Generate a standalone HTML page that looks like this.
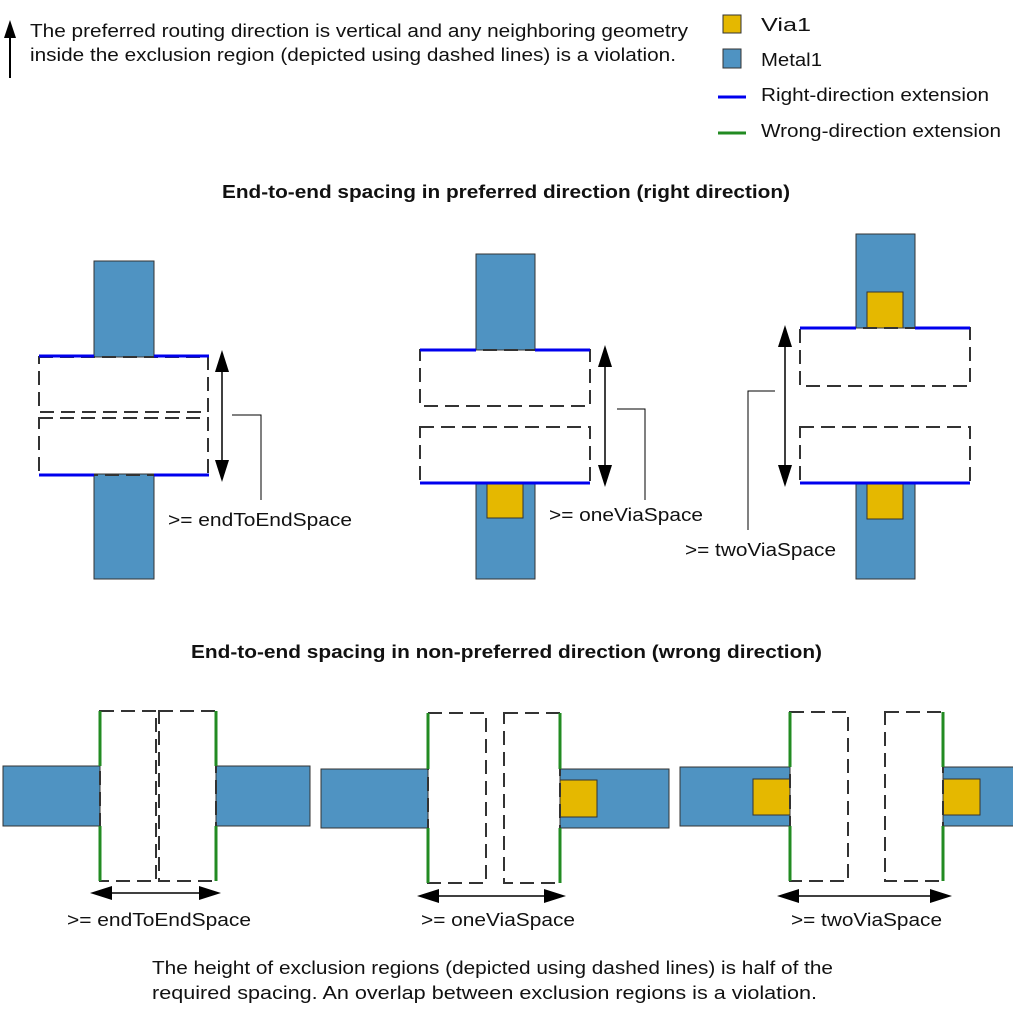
<!DOCTYPE html>
<html><head><meta charset="utf-8"><style>
html,body{margin:0;padding:0;background:#fff;}
svg{display:block;}
text{font-family:"Liberation Sans",sans-serif;fill:#111;}
</style></head><body>
<svg width="1013" height="1026" viewBox="0 0 1013 1026" xmlns="http://www.w3.org/2000/svg">
<g font-size="18">
<line x1="10" y1="78" x2="10" y2="36" stroke="#000" stroke-width="2"/>
<path d="M4,38 L10,20 L16,38 z" fill="#000"/>
<text x="30" y="37" textLength="658" lengthAdjust="spacingAndGlyphs">The preferred routing direction is vertical and any neighboring geometry</text>
<text x="30" y="61" textLength="646" lengthAdjust="spacingAndGlyphs">inside the exclusion region (depicted using dashed lines) is a violation.</text>
<rect x="723" y="15" width="18" height="18" fill="#e5b800" stroke="#333"/>
<text x="761" y="31" textLength="50" lengthAdjust="spacingAndGlyphs">Via1</text>
<rect x="723" y="49" width="18" height="19" fill="#4f93c2" stroke="#333"/>
<text x="761" y="66" textLength="61" lengthAdjust="spacingAndGlyphs">Metal1</text>
<line x1="718" y1="97" x2="746" y2="97" stroke="#0000ee" stroke-width="3"/>
<text x="761" y="101" textLength="228" lengthAdjust="spacingAndGlyphs">Right-direction extension</text>
<line x1="718" y1="133" x2="746" y2="133" stroke="#228b22" stroke-width="3"/>
<text x="761" y="137" textLength="240" lengthAdjust="spacingAndGlyphs">Wrong-direction extension</text>
<text x="222" y="198" font-weight="bold" textLength="568" lengthAdjust="spacingAndGlyphs">End-to-end spacing in preferred direction (right direction)</text>
<text x="191" y="658" font-weight="bold" textLength="631" lengthAdjust="spacingAndGlyphs">End-to-end spacing in non-preferred direction (wrong direction)</text>
</g>

<g fill="#4f93c2" stroke="#333" stroke-width="1">
<rect x="94" y="261" width="60" height="96"/>
<rect x="94" y="474" width="60" height="105"/>
<rect x="476" y="254" width="59" height="96"/>
<rect x="476" y="483" width="59" height="96"/>
<rect x="856" y="234" width="59" height="94"/>
<rect x="856" y="483" width="59" height="96"/>
<rect x="3" y="766" width="97" height="60"/>
<rect x="216" y="766" width="94" height="60"/>
<rect x="321" y="769" width="107" height="59"/>
<rect x="560" y="769" width="109" height="59"/>
<rect x="680" y="767" width="110" height="59"/>
<rect x="943" y="767" width="72" height="59"/>
</g>
<g fill="#e5b800" stroke="#333" stroke-width="1">
<rect x="487" y="482" width="36" height="36"/>
<rect x="867" y="292" width="36" height="36"/>
<rect x="867" y="483" width="36" height="36"/>
<rect x="560" y="780" width="37" height="37"/>
<rect x="753" y="779" width="37" height="36"/>
<rect x="943" y="779" width="37" height="36"/>
</g>

<g fill="none" stroke="#333" stroke-width="2" stroke-dasharray="14,7">
<rect x="39" y="357" width="169" height="55"/>
<rect x="39" y="418" width="169" height="57"/>
<rect x="420" y="350" width="170" height="56"/>
<rect x="420" y="427" width="170" height="56"/>
<rect x="800" y="328" width="170" height="58"/>
<rect x="800" y="427" width="170" height="56"/>
<rect x="100" y="711" width="56" height="170"/>
<rect x="159" y="711" width="57" height="170"/>
<rect x="428" y="713" width="58" height="170"/>
<rect x="504" y="713" width="56" height="170"/>
<rect x="790" y="712" width="58" height="169"/>
<rect x="885" y="712" width="58" height="169"/>
</g>

<g stroke="#0000ee" stroke-width="3">
<line x1="39" y1="356" x2="94" y2="356"/><line x1="154" y1="356" x2="209" y2="356"/>
<line x1="39" y1="475" x2="94" y2="475"/><line x1="154" y1="475" x2="209" y2="475"/>
<line x1="420" y1="350" x2="476" y2="350"/><line x1="535" y1="350" x2="590" y2="350"/>
<line x1="420" y1="483" x2="590" y2="483"/>
<line x1="800" y1="328" x2="856" y2="328"/><line x1="915" y1="328" x2="970" y2="328"/>
<line x1="800" y1="483" x2="970" y2="483"/>
</g>
<g stroke="#228b22" stroke-width="3">
<line x1="100" y1="711" x2="100" y2="766"/><line x1="100" y1="826" x2="100" y2="881"/>
<line x1="216" y1="711" x2="216" y2="766"/><line x1="216" y1="826" x2="216" y2="881"/>
<line x1="428" y1="713" x2="428" y2="769"/><line x1="428" y1="828" x2="428" y2="883"/>
<line x1="560" y1="713" x2="560" y2="769"/><line x1="560" y1="828" x2="560" y2="883"/>
<line x1="790" y1="712" x2="790" y2="767"/><line x1="790" y1="826" x2="790" y2="881"/>
<line x1="943" y1="712" x2="943" y2="767"/><line x1="943" y1="826" x2="943" y2="881"/>
</g>

<g stroke="#000" stroke-width="1.5">
<line x1="222" y1="370" x2="222" y2="462"/>
<line x1="605" y1="365" x2="605" y2="467"/>
<line x1="785" y1="345" x2="785" y2="467"/>
<line x1="110" y1="893" x2="201" y2="893"/>
<line x1="437" y1="896" x2="546" y2="896"/>
<line x1="797" y1="896" x2="932" y2="896"/>
</g>
<g fill="#000">
<path d="M215,372 L222,350 L229,372 z"/><path d="M215,460 L222,482 L229,460 z"/>
<path d="M598,367 L605,345 L612,367 z"/><path d="M598,465 L605,487 L612,465 z"/>
<path d="M778,347 L785,325 L792,347 z"/><path d="M778,465 L785,487 L792,465 z"/>
<path d="M112,886 L90,893 L112,900 z"/><path d="M199,886 L221,893 L199,900 z"/>
<path d="M439,889 L417,896 L439,903 z"/><path d="M544,889 L566,896 L544,903 z"/>
<path d="M799,889 L777,896 L799,903 z"/><path d="M930,889 L952,896 L930,903 z"/>
</g>
<g fill="none" stroke="#000" stroke-width="1">
<polyline points="232,415 261,415 261,500"/>
<polyline points="617,409 645,409 645,500"/>
<polyline points="775,391 748,391 748,530"/>
</g>
<g font-size="18">
<text x="168" y="526" textLength="184" lengthAdjust="spacingAndGlyphs">&gt;= endToEndSpace</text>
<text x="549" y="521" textLength="154" lengthAdjust="spacingAndGlyphs">&gt;= oneViaSpace</text>
<text x="685" y="556" textLength="151" lengthAdjust="spacingAndGlyphs">&gt;= twoViaSpace</text>
<text x="67" y="926" textLength="184" lengthAdjust="spacingAndGlyphs">&gt;= endToEndSpace</text>
<text x="421" y="926" textLength="154" lengthAdjust="spacingAndGlyphs">&gt;= oneViaSpace</text>
<text x="791" y="926" textLength="151" lengthAdjust="spacingAndGlyphs">&gt;= twoViaSpace</text>
<text x="152" y="974" textLength="681" lengthAdjust="spacingAndGlyphs">The height of exclusion regions (depicted using dashed lines) is half of the</text>
<text x="152" y="999" textLength="665" lengthAdjust="spacingAndGlyphs">required spacing. An overlap between exclusion regions is a violation.</text>
</g>
</svg>
</body></html>
